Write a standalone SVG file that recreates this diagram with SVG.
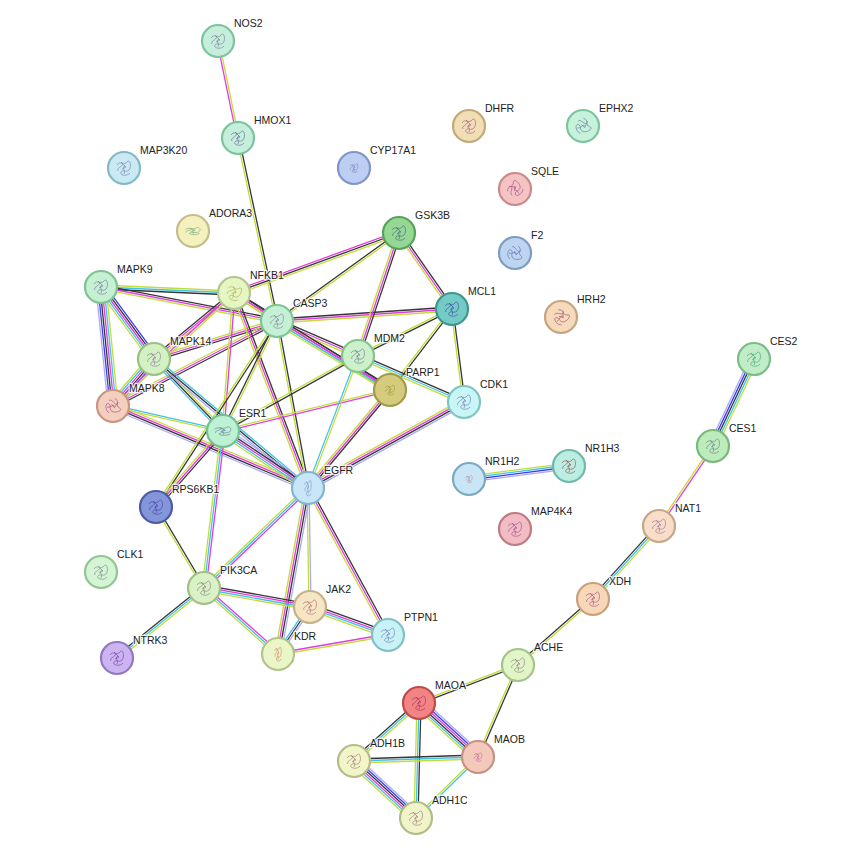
<svg xmlns="http://www.w3.org/2000/svg" xmlns:xlink="http://www.w3.org/1999/xlink" width="862" height="855" viewBox="0 0 862 855">
<style>
#edges use{fill:none;stroke-width:1.3}
.k{stroke:#363636}.e{stroke:#e23be2}.t{stroke:#c3dc3a}.c{stroke:#3fc3e6}.b{stroke:#3b3bf5}.h{stroke:#a9a9f7}
.n circle{stroke-width:2.2}
.n use{fill:none;stroke-width:0.8;opacity:0.75}
.n text{font-family:"Liberation Sans",Arial,sans-serif;font-size:10.5px;fill:#222;stroke:#fff;stroke-width:2.5px;stroke-opacity:0.85;paint-order:stroke;stroke-linejoin:round}
</style>
<defs>
<path id="sc" d="M-7,-3 C-4,-8 0,-2 3,-6 S8,-1 5,2 S-1,1 -3,4 S3,9 6,5 M-6,3 C-8,0 -2,-1 -1,-4 M0,6 C2,2 -3,0 1,-2 M-3,-6 L2,-1 L-2,1"/>
<path id="p1" d="M218 41L238 138"/><path id="p2" d="M238 138L277 321"/><path id="p3" d="M101 287L234 293"/>
<path id="p4" d="M101 287L277 321"/><path id="p5" d="M101 287L154 359"/><path id="p6" d="M101 287L113 406"/>
<path id="p7" d="M154 359L113 406"/><path id="p8" d="M234 293L154 359"/><path id="p9" d="M234 293L113 406"/>
<path id="p10" d="M277 321L154 359"/><path id="p11" d="M277 321L113 406"/><path id="p12" d="M113 406L223 431"/>
<path id="p13" d="M113 406L308 488"/><path id="p14" d="M154 359L223 431"/><path id="p15" d="M154 359L308 488"/>
<path id="p17" d="M234 293L277 321"/><path id="p18" d="M234 293L223 431"/><path id="p19" d="M234 293L308 488"/>
<path id="p20" d="M234 293L399 233"/><path id="p21" d="M234 293L390 390"/><path id="p22" d="M277 321L399 233"/>
<path id="p23" d="M277 321L452 309"/><path id="p24" d="M277 321L358 356"/><path id="p25" d="M277 321L390 390"/>
<path id="p26" d="M277 321L223 431"/><path id="p27" d="M277 321L308 488"/><path id="p28" d="M277 321L156 507"/>
<path id="p29" d="M399 233L452 309"/><path id="p30" d="M399 233L358 356"/><path id="p31" d="M452 309L464 402"/>
<path id="p32" d="M452 309L358 356"/><path id="p33" d="M452 309L390 390"/><path id="p34" d="M358 356L464 402"/>
<path id="p35" d="M358 356L223 431"/><path id="p36" d="M390 390L223 431"/><path id="p37" d="M358 356L308 488"/>
<path id="p38" d="M390 390L308 488"/><path id="p39" d="M464 402L308 488"/><path id="p40" d="M223 431L308 488"/>
<path id="p41" d="M223 431L156 507"/><path id="p42" d="M223 431L204 588"/><path id="p43" d="M156 507L204 588"/>
<path id="p44" d="M308 488L204 588"/><path id="p45" d="M308 488L310 607"/><path id="p46" d="M308 488L278 654"/>
<path id="p47" d="M308 488L388 635"/><path id="p48" d="M204 588L310 607"/><path id="p49" d="M204 588L278 654"/>
<path id="p50" d="M204 588L117 658"/><path id="p51" d="M310 607L278 654"/><path id="p52" d="M310 607L388 635"/>
<path id="p53" d="M278 654L388 635"/><path id="p54" d="M518 665L593 599"/><path id="p55" d="M593 599L659 526"/>
<path id="p56" d="M659 526L713 446"/><path id="p57" d="M713 446L754 359"/><path id="p58" d="M469 479L569 466"/>
<path id="p59" d="M518 665L419 703"/><path id="p60" d="M518 665L478 757"/><path id="p61" d="M419 703L478 757"/>
<path id="p62" d="M419 703L354 761"/><path id="p63" d="M419 703L416 818"/><path id="p64" d="M354 761L478 757"/>
<path id="p65" d="M354 761L416 818"/><path id="p66" d="M478 757L416 818"/>
</defs>
<rect width="862" height="855" fill="#fff"/>
<g id="edges">
<g id="e-NOS2-HMOX1"><use href="#p1" class="t" transform="translate(0.98,-0.2)"/><use href="#p1" class="e" transform="translate(-0.98,0.2)"/></g>
<g id="e-HMOX1-CASP3"><use href="#p2" class="k" transform="translate(0.98,-0.21)"/><use href="#p2" class="t" transform="translate(-0.98,0.21)"/></g>
<g id="e-MAPK9-NFKB1"><use href="#p3" class="t" transform="translate(0.09,-2)"/><use href="#p3" class="c"/><use href="#p3" class="k" transform="translate(-0.09,2)"/></g>
<g id="e-MAPK9-CASP3"><use href="#p4" class="k" transform="translate(0.38,-1.96)"/><use href="#p4" class="e"/><use href="#p4" class="t" transform="translate(-0.38,1.96)"/></g>
<g id="e-MAPK9-MAPK14"><use href="#p5" class="b" transform="translate(3.22,-2.38)"/><use href="#p5" class="k" transform="translate(1.61,-1.19)"/><use href="#p5" class="e"/><use href="#p5" class="c" transform="translate(-1.61,1.19)"/><use href="#p5" class="t" transform="translate(-3.22,2.38)"/></g>
<g id="e-MAPK9-MAPK8"><use href="#p6" class="t" transform="translate(4.98,-0.5)"/><use href="#p6" class="c" transform="translate(2.99,-0.3)"/><use href="#p6" class="e" transform="translate(1,-0.1)"/><use href="#p6" class="k" transform="translate(-1,0.1)"/><use href="#p6" class="b" transform="translate(-2.99,0.3)"/><use href="#p6" class="h" transform="translate(-4.98,0.5)"/></g>
<g id="e-MAPK14-MAPK8"><use href="#p7" class="h" transform="translate(3.78,3.28)"/><use href="#p7" class="b" transform="translate(2.27,1.97)"/><use href="#p7" class="k" transform="translate(0.76,0.66)"/><use href="#p7" class="e" transform="translate(-0.76,-0.66)"/><use href="#p7" class="c" transform="translate(-2.27,-1.97)"/><use href="#p7" class="t" transform="translate(-3.78,-3.28)"/></g>
<g id="e-NFKB1-MAPK14"><use href="#p8" class="t" transform="translate(1.27,1.54)"/><use href="#p8" class="e"/><use href="#p8" class="k" transform="translate(-1.27,-1.54)"/></g>
<g id="e-NFKB1-MAPK8"><use href="#p9" class="t" transform="translate(0.68,0.73)"/><use href="#p9" class="e" transform="translate(-0.68,-0.73)"/></g>
<g id="e-CASP3-MAPK14"><use href="#p10" class="k" transform="translate(0.59,1.91)"/><use href="#p10" class="e"/><use href="#p10" class="t" transform="translate(-0.59,-1.91)"/></g>
<g id="e-CASP3-MAPK8"><use href="#p11" class="k" transform="translate(0.92,1.78)"/><use href="#p11" class="e"/><use href="#p11" class="t" transform="translate(-0.92,-1.78)"/></g>
<g id="e-MAPK8-ESR1"><use href="#p12" class="c" transform="translate(0.22,-0.98)"/><use href="#p12" class="t" transform="translate(-0.22,0.98)"/></g>
<g id="e-MAPK8-EGFR"><use href="#p13" class="t" transform="translate(1.17,-2.76)"/><use href="#p13" class="e" transform="translate(0.39,-0.92)"/><use href="#p13" class="k" transform="translate(-0.39,0.92)"/><use href="#p13" class="h" transform="translate(-1.17,2.76)"/></g>
<g id="e-MAPK14-ESR1"><use href="#p14" class="t" transform="translate(1.44,-1.38)"/><use href="#p14" class="k"/><use href="#p14" class="c" transform="translate(-1.44,1.38)"/></g>
<g id="e-MAPK14-EGFR"><use href="#p15" class="c" transform="translate(1.28,-1.53)"/><use href="#p15" class="k"/><use href="#p15" class="h" transform="translate(-1.28,1.53)"/></g>
<g id="e-NFKB1-CASP3"><use href="#p17" class="k" transform="translate(1.09,-1.68)"/><use href="#p17" class="e"/><use href="#p17" class="t" transform="translate(-1.09,1.68)"/></g>
<g id="e-NFKB1-ESR1"><use href="#p18" class="e" transform="translate(1,0.08)"/><use href="#p18" class="t" transform="translate(-1,-0.08)"/></g>
<g id="e-NFKB1-EGFR"><use href="#p19" class="k" transform="translate(1.87,-0.71)"/><use href="#p19" class="e"/><use href="#p19" class="t" transform="translate(-1.87,0.71)"/></g>
<g id="e-NFKB1-GSK3B"><use href="#p20" class="e" transform="translate(-0.68,-1.88)"/><use href="#p20" class="k"/><use href="#p20" class="t" transform="translate(0.68,1.88)"/></g>
<g id="e-NFKB1-PARP1"><use href="#p21" class="k" transform="translate(1.06,-1.7)"/><use href="#p21" class="e"/><use href="#p21" class="t" transform="translate(-1.06,1.7)"/></g>
<g id="e-CASP3-GSK3B"><use href="#p22" class="k" transform="translate(-0.58,-0.81)"/><use href="#p22" class="t" transform="translate(0.58,0.81)"/></g>
<g id="e-CASP3-MCL1"><use href="#p23" class="k" transform="translate(-0.14,-2)"/><use href="#p23" class="e"/><use href="#p23" class="t" transform="translate(0.14,2)"/></g>
<g id="e-CASP3-MDM2"><use href="#p24" class="k" transform="translate(0.79,-1.84)"/><use href="#p24" class="e"/><use href="#p24" class="t" transform="translate(-0.79,1.84)"/></g>
<g id="e-CASP3-PARP1"><use href="#p25" class="k" transform="translate(1.56,-2.57)"/><use href="#p25" class="e" transform="translate(0.52,-0.86)"/><use href="#p25" class="c" transform="translate(-0.52,0.86)"/><use href="#p25" class="t" transform="translate(-1.56,2.57)"/></g>
<g id="e-CASP3-ESR1"><use href="#p26" class="t" transform="translate(0.9,0.44)"/><use href="#p26" class="k" transform="translate(-0.9,-0.44)"/></g>
<g id="e-CASP3-EGFR"><use href="#p27" class="k" transform="translate(0.98,-0.18)"/><use href="#p27" class="t" transform="translate(-0.98,0.18)"/></g>
<g id="e-CASP3-RPS6KB1"><use href="#p28" class="k" transform="translate(0.84,0.55)"/><use href="#p28" class="t" transform="translate(-0.84,-0.55)"/></g>
<g id="e-GSK3B-MCL1"><use href="#p29" class="k" transform="translate(1.64,-1.14)"/><use href="#p29" class="e"/><use href="#p29" class="t" transform="translate(-1.64,1.14)"/></g>
<g id="e-GSK3B-MDM2"><use href="#p30" class="k" transform="translate(1.9,0.63)"/><use href="#p30" class="e"/><use href="#p30" class="t" transform="translate(-1.9,-0.63)"/></g>
<g id="e-MCL1-CDK1"><use href="#p31" class="k" transform="translate(0.99,-0.13)"/><use href="#p31" class="t" transform="translate(-0.99,0.13)"/></g>
<g id="e-MCL1-MDM2"><use href="#p32" class="k" transform="translate(0.45,0.9)"/><use href="#p32" class="t" transform="translate(-0.45,-0.9)"/></g>
<g id="e-MCL1-PARP1"><use href="#p33" class="k" transform="translate(0.8,0.61)"/><use href="#p33" class="t" transform="translate(-0.8,-0.61)"/></g>
<g id="e-MDM2-CDK1"><use href="#p34" class="k" transform="translate(0.8,-1.83)"/><use href="#p34" class="c"/><use href="#p34" class="t" transform="translate(-0.8,1.83)"/></g>
<g id="e-MDM2-ESR1"><use href="#p35" class="k" transform="translate(0.49,0.88)"/><use href="#p35" class="t" transform="translate(-0.49,-0.88)"/></g>
<g id="e-PARP1-ESR1"><use href="#p36" class="e" transform="translate(0.24,0.97)"/><use href="#p36" class="t" transform="translate(-0.24,-0.97)"/></g>
<g id="e-MDM2-EGFR"><use href="#p37" class="t" transform="translate(0.94,0.36)"/><use href="#p37" class="c" transform="translate(-0.94,-0.36)"/></g>
<g id="e-PARP1-EGFR"><use href="#p38" class="k" transform="translate(1.53,1.28)"/><use href="#p38" class="e"/><use href="#p38" class="t" transform="translate(-1.53,-1.28)"/></g>
<g id="e-CDK1-EGFR"><use href="#p39" class="h" transform="translate(1.46,2.63)"/><use href="#p39" class="k" transform="translate(0.49,0.88)"/><use href="#p39" class="e" transform="translate(-0.49,-0.88)"/><use href="#p39" class="t" transform="translate(-1.46,-2.63)"/></g>
<g id="e-ESR1-EGFR"><use href="#p40" class="h" transform="translate(2.22,-3.32)"/><use href="#p40" class="k" transform="translate(1.11,-1.66)"/><use href="#p40" class="e"/><use href="#p40" class="c" transform="translate(-1.11,1.66)"/><use href="#p40" class="t" transform="translate(-2.22,3.32)"/></g>
<g id="e-ESR1-RPS6KB1"><use href="#p41" class="k" transform="translate(1.5,1.32)"/><use href="#p41" class="e"/><use href="#p41" class="t" transform="translate(-1.5,-1.32)"/></g>
<g id="e-ESR1-PIK3CA"><use href="#p42" class="e" transform="translate(1.99,0.24)"/><use href="#p42" class="c"/><use href="#p42" class="t" transform="translate(-1.99,-0.24)"/></g>
<g id="e-RPS6KB1-PIK3CA"><use href="#p43" class="k" transform="translate(0.86,-0.51)"/><use href="#p43" class="t" transform="translate(-0.86,0.51)"/></g>
<g id="e-EGFR-PIK3CA"><use href="#p44" class="e" transform="translate(1.39,1.44)"/><use href="#p44" class="c"/><use href="#p44" class="t" transform="translate(-1.39,-1.44)"/></g>
<g id="e-EGFR-JAK2"><use href="#p45" class="h" transform="translate(1,0)"/><use href="#p45" class="t" transform="translate(-1,0)"/></g>
<g id="e-EGFR-KDR"><use href="#p46" class="h" transform="translate(2.96,0.54)"/><use href="#p46" class="k" transform="translate(0.99,0.18)"/><use href="#p46" class="e" transform="translate(-0.99,-0.18)"/><use href="#p46" class="t" transform="translate(-2.96,-0.54)"/></g>
<g id="e-EGFR-PTPN1"><use href="#p47" class="k" transform="translate(1.76,-0.96)"/><use href="#p47" class="e"/><use href="#p47" class="t" transform="translate(-1.76,0.96)"/></g>
<g id="e-PIK3CA-JAK2"><use href="#p48" class="k" transform="translate(0.53,-2.96)"/><use href="#p48" class="e" transform="translate(0.18,-0.99)"/><use href="#p48" class="c" transform="translate(-0.18,0.99)"/><use href="#p48" class="t" transform="translate(-0.53,2.96)"/></g>
<g id="e-PIK3CA-KDR"><use href="#p49" class="e" transform="translate(1.33,-1.49)"/><use href="#p49" class="c"/><use href="#p49" class="t" transform="translate(-1.33,1.49)"/></g>
<g id="e-PIK3CA-NTRK3"><use href="#p50" class="t" transform="translate(1.25,1.56)"/><use href="#p50" class="c"/><use href="#p50" class="k" transform="translate(-1.25,-1.56)"/></g>
<g id="e-JAK2-KDR"><use href="#p51" class="h" transform="translate(1.65,1.12)"/><use href="#p51" class="k"/><use href="#p51" class="c" transform="translate(-1.65,-1.12)"/></g>
<g id="e-JAK2-PTPN1"><use href="#p52" class="k" transform="translate(1.02,-2.82)"/><use href="#p52" class="e" transform="translate(0.34,-0.94)"/><use href="#p52" class="c" transform="translate(-0.34,0.94)"/><use href="#p52" class="t" transform="translate(-1.02,2.82)"/></g>
<g id="e-KDR-PTPN1"><use href="#p53" class="e" transform="translate(-0.17,-0.99)"/><use href="#p53" class="t" transform="translate(0.17,0.99)"/></g>
<g id="e-ACHE-XDH"><use href="#p54" class="k" transform="translate(-0.66,-0.75)"/><use href="#p54" class="t" transform="translate(0.66,0.75)"/></g>
<g id="e-XDH-NAT1"><use href="#p55" class="k" transform="translate(-1.48,-1.34)"/><use href="#p55" class="c"/><use href="#p55" class="t" transform="translate(1.48,1.34)"/></g>
<g id="e-NAT1-CES1"><use href="#p56" class="t" transform="translate(-0.83,-0.56)"/><use href="#p56" class="e" transform="translate(0.83,0.56)"/></g>
<g id="e-CES1-CES2"><use href="#p57" class="h" transform="translate(-3.62,-1.7)"/><use href="#p57" class="b" transform="translate(-1.81,-0.85)"/><use href="#p57" class="k"/><use href="#p57" class="c" transform="translate(1.81,0.85)"/><use href="#p57" class="t" transform="translate(3.62,1.7)"/></g>
<g id="e-NR1H2-NR1H3"><use href="#p58" class="t" transform="translate(-0.39,-2.97)"/><use href="#p58" class="c" transform="translate(-0.13,-0.99)"/><use href="#p58" class="b" transform="translate(0.13,0.99)"/><use href="#p58" class="h" transform="translate(0.39,2.97)"/></g>
<g id="e-ACHE-MAOA"><use href="#p59" class="k" transform="translate(0.36,0.94)"/><use href="#p59" class="t" transform="translate(-0.36,-0.94)"/></g>
<g id="e-ACHE-MAOB"><use href="#p60" class="k" transform="translate(0.92,0.4)"/><use href="#p60" class="t" transform="translate(-0.92,-0.4)"/></g>
<g id="e-MAOA-MAOB"><use href="#p61" class="h" transform="translate(3.38,-3.7)"/><use href="#p61" class="b" transform="translate(2.03,-2.22)"/><use href="#p61" class="e" transform="translate(0.68,-0.74)"/><use href="#p61" class="k" transform="translate(-0.68,0.74)"/><use href="#p61" class="c" transform="translate(-2.03,2.22)"/><use href="#p61" class="t" transform="translate(-3.38,3.7)"/></g>
<g id="e-MAOA-ADH1B"><use href="#p62" class="t" transform="translate(1.33,1.49)"/><use href="#p62" class="c"/><use href="#p62" class="k" transform="translate(-1.33,-1.49)"/></g>
<g id="e-MAOA-ADH1C"><use href="#p63" class="k" transform="translate(2,0.05)"/><use href="#p63" class="c"/><use href="#p63" class="t" transform="translate(-2,-0.05)"/></g>
<g id="e-ADH1B-MAOB"><use href="#p64" class="k" transform="translate(-0.06,-2)"/><use href="#p64" class="c"/><use href="#p64" class="t" transform="translate(0.06,2)"/></g>
<g id="e-ADH1B-ADH1C"><use href="#p65" class="h" transform="translate(3.38,-3.68)"/><use href="#p65" class="b" transform="translate(2.03,-2.21)"/><use href="#p65" class="k" transform="translate(0.68,-0.74)"/><use href="#p65" class="e" transform="translate(-0.68,0.74)"/><use href="#p65" class="c" transform="translate(-2.03,2.21)"/><use href="#p65" class="t" transform="translate(-3.38,3.68)"/></g>
<g id="e-MAOB-ADH1C"><use href="#p66" class="c" transform="translate(0.7,0.72)"/><use href="#p66" class="t" transform="translate(-0.7,-0.72)"/></g>
</g>
<g id="nodes">
<g id="n-NOS2" class="n"><circle cx="218" cy="41" r="16" fill="#c6efdb" stroke="#7dc3a1"/><use href="#sc" transform="translate(218,41)" stroke="#6f74a0"/><text x="234" y="27">NOS2</text></g>
<g id="n-HMOX1" class="n"><circle cx="238" cy="138" r="16" fill="#c6efdb" stroke="#7dc3a1"/><use href="#sc" transform="translate(238,138)" stroke="#5c5f92"/><text x="254" y="124">HMOX1</text></g>
<g id="n-MAP3K20" class="n"><circle cx="124" cy="168" r="16" fill="#c9eaf2" stroke="#84b9c8"/><use href="#sc" transform="translate(124,168)" stroke="#7278b0"/><text x="140" y="154">MAP3K20</text></g>
<g id="n-CYP17A1" class="n"><circle cx="354" cy="168" r="16" fill="#bccff2" stroke="#7f96c6"/><use href="#sc" transform="translate(354,168) scale(0.6)" stroke="#5a52a8"/><text x="370" y="154">CYP17A1</text></g>
<g id="n-DHFR" class="n"><circle cx="469" cy="126" r="16" fill="#f1deb4" stroke="#c3a97a"/><use href="#sc" transform="translate(469,126)" stroke="#a0508a"/><text x="485" y="112">DHFR</text></g>
<g id="n-EPHX2" class="n"><circle cx="583" cy="126" r="16" fill="#c6f1da" stroke="#7dc59f"/><use href="#sc" transform="translate(583,126) rotate(70)" stroke="#6a7aa0"/><text x="599" y="112">EPHX2</text></g>
<g id="n-SQLE" class="n"><circle cx="515" cy="189" r="16" fill="#f5c3c3" stroke="#c98a8a"/><use href="#sc" transform="translate(515,189) rotate(-40)" stroke="#a04a8a"/><text x="531" y="175">SQLE</text></g>
<g id="n-ADORA3" class="n"><circle cx="193" cy="231" r="16" fill="#f5f1bd" stroke="#c6be8a"/><use href="#sc" transform="translate(193,231) scale(1.1,0.5)" stroke="#5a9a6a"/><text x="209" y="217">ADORA3</text></g>
<g id="n-GSK3B" class="n"><circle cx="399" cy="233" r="16" fill="#94d894" stroke="#5aa25a"/><use href="#sc" transform="translate(399,233)" stroke="#4a5a7a"/><text x="415" y="219">GSK3B</text></g>
<g id="n-F2" class="n"><circle cx="515" cy="253" r="16" fill="#bed5f1" stroke="#7d9dc3"/><use href="#sc" transform="translate(515,253) rotate(90)" stroke="#5a6ab0"/><text x="531" y="239">F2</text></g>
<g id="n-MAPK9" class="n"><circle cx="101" cy="287" r="16" fill="#c6f0d2" stroke="#7fc293"/><use href="#sc" transform="translate(101,287)" stroke="#6a70a0"/><text x="117" y="273">MAPK9</text></g>
<g id="n-NFKB1" class="n"><circle cx="234" cy="293" r="16" fill="#e6f5c4" stroke="#b1c78c"/><use href="#sc" transform="translate(234,293) rotate(20)" stroke="#b0b050"/><text x="250" y="279">NFKB1</text></g>
<g id="n-CASP3" class="n"><circle cx="277" cy="321" r="16" fill="#c6f0d6" stroke="#7dc496"/><use href="#sc" transform="translate(277,321)" stroke="#7a7aa0"/><text x="293" y="307">CASP3</text></g>
<g id="n-MCL1" class="n"><circle cx="452" cy="309" r="16" fill="#74cac4" stroke="#3f9690"/><use href="#sc" transform="translate(452,309)" stroke="#3a40a0"/><text x="468" y="295">MCL1</text></g>
<g id="n-HRH2" class="n"><circle cx="561" cy="317" r="16" fill="#f5dabb" stroke="#c6a480"/><use href="#sc" transform="translate(561,317) rotate(45)" stroke="#a04a70"/><text x="577" y="303">HRH2</text></g>
<g id="n-MAPK14" class="n"><circle cx="154" cy="359" r="16" fill="#d3f1c3" stroke="#96c182"/><use href="#sc" transform="translate(154,359)" stroke="#8a6a9a"/><text x="170" y="345">MAPK14</text></g>
<g id="n-MDM2" class="n"><circle cx="358" cy="356" r="16" fill="#caf1ca" stroke="#89c389"/><use href="#sc" transform="translate(358,356)" stroke="#707090"/><text x="374" y="342">MDM2</text></g>
<g id="n-PARP1" class="n"><circle cx="390" cy="390" r="16" fill="#d4cc7c" stroke="#a29a4c"/><use href="#sc" transform="translate(390,390) scale(0.7)" stroke="#8a8020"/><text x="406" y="376">PARP1</text></g>
<g id="n-MAPK8" class="n"><circle cx="113" cy="406" r="16" fill="#f5cfbd" stroke="#c79582"/><use href="#sc" transform="translate(113,406) rotate(80)" stroke="#9a4a8a"/><text x="129" y="392">MAPK8</text></g>
<g id="n-CDK1" class="n"><circle cx="464" cy="402" r="16" fill="#c8f5f5" stroke="#80c4c4"/><use href="#sc" transform="translate(464,402)" stroke="#6a70b0"/><text x="480" y="388">CDK1</text></g>
<g id="n-ESR1" class="n"><circle cx="223" cy="431" r="16" fill="#bcf1d3" stroke="#72c193"/><use href="#sc" transform="translate(223,431) scale(1.2,0.6)" stroke="#5a6a90"/><text x="239" y="417">ESR1</text></g>
<g id="n-EGFR" class="n"><circle cx="308" cy="488" r="16" fill="#c8e6f8" stroke="#82b5d1"/><use href="#sc" transform="translate(308,488) scale(0.5,1.1)" stroke="#7080b0"/><text x="324" y="474">EGFR</text></g>
<g id="n-NR1H2" class="n"><circle cx="469" cy="479" r="16" fill="#c8e6f5" stroke="#7aa9c1"/><use href="#sc" transform="translate(469,479) scale(0.5)" stroke="#a05060"/><text x="485" y="465">NR1H2</text></g>
<g id="n-NR1H3" class="n"><circle cx="569" cy="466" r="16" fill="#bcede2" stroke="#71b8a8"/><use href="#sc" transform="translate(569,466)" stroke="#8a4a3a"/><text x="585" y="452">NR1H3</text></g>
<g id="n-MAP4K4" class="n"><circle cx="515" cy="529" r="16" fill="#f2bcc4" stroke="#c07a83"/><use href="#sc" transform="translate(515,529)" stroke="#9a4a8a"/><text x="531" y="515">MAP4K4</text></g>
<g id="n-RPS6KB1" class="n"><circle cx="156" cy="507" r="16" fill="#8496da" stroke="#4b5ba6"/><use href="#sc" transform="translate(156,507)" stroke="#3a3aa0"/><text x="172" y="493">RPS6KB1</text></g>
<g id="n-CLK1" class="n"><circle cx="101" cy="572" r="16" fill="#d3f5d3" stroke="#92c592"/><use href="#sc" transform="translate(101,572)" stroke="#7a7a8a"/><text x="117" y="558">CLK1</text></g>
<g id="n-PIK3CA" class="n"><circle cx="204" cy="588" r="16" fill="#daf1c6" stroke="#a1c089"/><use href="#sc" transform="translate(204,588)" stroke="#7a7a7a"/><text x="220" y="574">PIK3CA</text></g>
<g id="n-JAK2" class="n"><circle cx="310" cy="607" r="16" fill="#f5e6c4" stroke="#c6b08a"/><use href="#sc" transform="translate(310,607)" stroke="#b06a6a"/><text x="326" y="593">JAK2</text></g>
<g id="n-PTPN1" class="n"><circle cx="388" cy="635" r="16" fill="#c8f2f5" stroke="#80c1c8"/><use href="#sc" transform="translate(388,635)" stroke="#6a70c0"/><text x="404" y="621">PTPN1</text></g>
<g id="n-KDR" class="n"><circle cx="278" cy="654" r="16" fill="#eaf5c8" stroke="#b1c58b"/><use href="#sc" transform="translate(278,654) scale(0.5,1)" stroke="#d06a4a"/><text x="294" y="640">KDR</text></g>
<g id="n-NTRK3" class="n"><circle cx="117" cy="658" r="16" fill="#ccb4f2" stroke="#9179c0"/><use href="#sc" transform="translate(117,658)" stroke="#6a3aa0"/><text x="133" y="644">NTRK3</text></g>
<g id="n-CES2" class="n"><circle cx="754" cy="359" r="16" fill="#c0edc8" stroke="#7abd86"/><use href="#sc" transform="translate(754,359)" stroke="#3aa06a"/><text x="770" y="345">CES2</text></g>
<g id="n-CES1" class="n"><circle cx="713" cy="446" r="16" fill="#bcebbc" stroke="#79b879"/><use href="#sc" transform="translate(713,446)" stroke="#6a7a8a"/><text x="729" y="432">CES1</text></g>
<g id="n-NAT1" class="n"><circle cx="659" cy="526" r="16" fill="#f8dec8" stroke="#c7a58a"/><use href="#sc" transform="translate(659,526)" stroke="#9a6a9a"/><text x="675" y="512">NAT1</text></g>
<g id="n-XDH" class="n"><circle cx="593" cy="599" r="16" fill="#f8d6b8" stroke="#c7a07e"/><use href="#sc" transform="translate(593,599)" stroke="#9a4a8a"/><text x="609" y="585">XDH</text></g>
<g id="n-ACHE" class="n"><circle cx="518" cy="665" r="16" fill="#e2f5c6" stroke="#a5c48a"/><use href="#sc" transform="translate(518,665)" stroke="#8a7a7a"/><text x="534" y="651">ACHE</text></g>
<g id="n-MAOA" class="n"><circle cx="419" cy="703" r="16" fill="#f28484" stroke="#c04a4a"/><use href="#sc" transform="translate(419,703)" stroke="#a02a5a"/><text x="435" y="689">MAOA</text></g>
<g id="n-MAOB" class="n"><circle cx="478" cy="757" r="16" fill="#f5c8bc" stroke="#c49287"/><use href="#sc" transform="translate(478,757) scale(0.6)" stroke="#9a3a7a"/><text x="494" y="743">MAOB</text></g>
<g id="n-ADH1B" class="n"><circle cx="354" cy="761" r="16" fill="#f1f5c8" stroke="#b7bc8a"/><use href="#sc" transform="translate(354,761)" stroke="#9a6a7a"/><text x="370" y="747">ADH1B</text></g>
<g id="n-ADH1C" class="n"><circle cx="416" cy="818" r="16" fill="#eff5c8" stroke="#b4bb8a"/><use href="#sc" transform="translate(416,818)" stroke="#9a6a7a"/><text x="432" y="804">ADH1C</text></g>
</g>
</svg>
